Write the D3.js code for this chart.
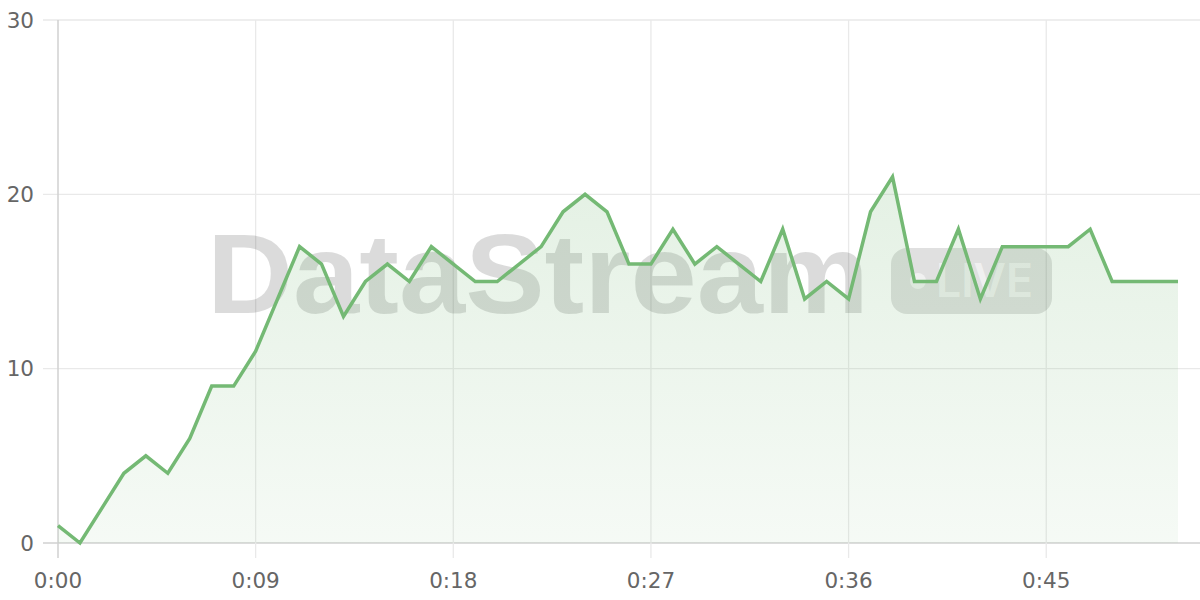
<!DOCTYPE html>
<html>
<head>
<meta charset="utf-8">
<script src="https://cdn.jsdelivr.net/npm/d3@7"></script>
<style>
html,body{margin:0;padding:0;background:#fff;}
svg{display:block;}
</style>
</head>
<body>
<svg id="chart" width="1200" height="600"></svg>
<script>
const seconds = d3.range(0, 52);
const values = [1,0,2,4,5,4,6,9,9,11,14,17,16,13,15,16,15,17,16,15,15,16,17,19,20,19,16,16,18,16,17,16,15,18,14,15,14,19,21,15,15,18,14,17,17,17,17,18,15,15,15,15];
const xTicks = [0, 9, 18, 27, 36, 45];
const yTicks = [0, 10, 20, 30];
const watermarkText = "DataStream";
const badgeText = "LIVE";

const svg = d3.select("#chart");
const x = d3.scaleLinear().domain([0, 51]).range([58, 1178]);
const y = d3.scaleLinear().domain([0, 30]).range([543, 20]);
const fmt = s => Math.floor(s/60) + ":" + String(s%60).padStart(2, "0");

const defs = svg.append("defs");
const grad = defs.append("linearGradient").attr("id","areaGrad")
  .attr("gradientUnits","userSpaceOnUse").attr("x1",0).attr("x2",0).attr("y1", y(21)).attr("y2", y(0));
grad.append("stop").attr("offset","0%").attr("stop-color","#77b877").attr("stop-opacity",0.2);
grad.append("stop").attr("offset","100%").attr("stop-color","#77b877").attr("stop-opacity",0.07);

// grid
const grid = svg.append("g");
grid.selectAll(".hg").data(yTicks).join("line")
  .attr("x1", 43).attr("x2", 1200).attr("y1", d => y(d)).attr("y2", d => y(d))
  .attr("stroke", d => d === 0 ? "#d0d0d0" : "#e9e9e9").attr("stroke-width", d => d===0 ? 1.5 : 1.3);
grid.selectAll(".vg").data(xTicks).join("line")
  .attr("x1", d => x(d)).attr("x2", d => x(d)).attr("y1", y(30)).attr("y2", 558)
  .attr("stroke", d => d === 0 ? "#d0d0d0" : "#e9e9e9").attr("stroke-width", d => d===0 ? 1.5 : 1.3);

// watermark
const wm = svg.append("g");
wm.append("text").attr("x", 207).attr("y", 313)
  .attr("font-family", "Liberation Sans, Arial, sans-serif").attr("font-weight", "bold")
  .attr("font-size", 114).attr("textLength", 662).attr("lengthAdjust","spacingAndGlyphs")
  .attr("fill", "rgba(0,0,0,0.14)").text(watermarkText);
wm.append("rect").attr("x", 891).attr("y", 248).attr("width", 161).attr("height", 66).attr("rx", 16)
  .attr("fill", "rgba(0,0,0,0.12)");
wm.append("circle").attr("cx", 918).attr("cy", 281).attr("r", 8).attr("fill", "rgba(255,255,255,0.55)");
wm.append("text").attr("x", 936).attr("y", 297)
  .attr("font-family", "Inter, Liberation Sans, sans-serif").attr("font-weight", 600)
  .attr("font-size", 46).attr("textLength", 97).attr("lengthAdjust","spacingAndGlyphs")
  .attr("fill", "rgba(255,255,255,0.55)").text(badgeText);

// area
const area = d3.area().x((d,i) => x(seconds[i])).y0(y(0)).y1(d => y(d));
svg.append("path").datum(values).attr("d", area).attr("fill", "url(#areaGrad)");

// line
const line = d3.line().x((d,i) => x(seconds[i])).y(d => y(d));
svg.append("path").datum(values).attr("d", line).attr("fill", "none")
  .attr("stroke", "#74b974").attr("stroke-width", 3.5).attr("stroke-linejoin","miter");

// labels
const lab = svg.append("g").attr("font-family", "DejaVu Sans, sans-serif").attr("font-size", 21.5).attr("fill", "#666");
lab.selectAll(".yl").data(yTicks).join("text")
  .attr("x", 34).attr("y", d => y(d)).attr("dy", "0.36em").attr("text-anchor", "end").text(d => d);
lab.selectAll(".xl").data(xTicks).join("text")
  .attr("x", d => x(d)).attr("y", 588).attr("text-anchor", "middle").text(d => fmt(d));
</script>
</body>
</html>
